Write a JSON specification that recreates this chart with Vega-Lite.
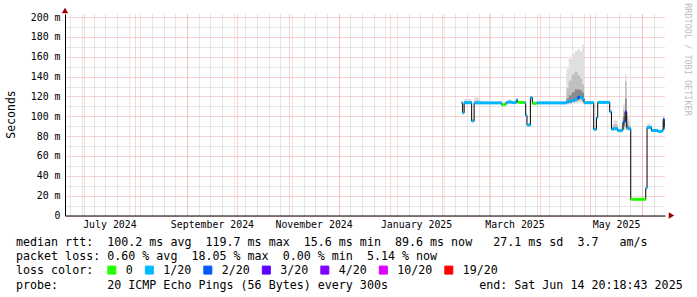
{
  "$schema": "https://vega.github.io/schema/vega-lite/v6.json",
  "width": 600,
  "height": 201.5,
  "autosize": {"type": "none"},
  "padding": {"left": 65, "top": 14, "right": 32, "bottom": 81.5},
  "background": "white",
  "config": {
    "view": {"stroke": null},
    "axis": {
      "labelFont": "DejaVu Sans Mono",
      "labelFontSize": 9.9,
      "labelColor": "#000000",
      "titleFont": "DejaVu Sans Mono",
      "titleFontWeight": "normal",
      "titleColor": "#000000",
      "tickSize": 0,
      "domainColor": "#000000",
      "labelFlush": false,
      "labelOverlap": false,
      "labelBound": false
    }
  },
  "title": {
    "text": [
      "median\u00a0rtt:\u00a0\u00a0100.2\u00a0ms\u00a0avg\u00a0\u00a0119.7\u00a0ms\u00a0max\u00a0\u00a015.6\u00a0ms\u00a0min\u00a0\u00a089.6\u00a0ms\u00a0now\u00a0\u00a0\u00a027.1\u00a0ms\u00a0sd\u00a0\u00a03.7\u00a0\u00a0\u00a0am/s",
      "packet\u00a0loss:\u00a00.60\u00a0%\u00a0avg\u00a0\u00a018.05\u00a0%\u00a0max\u00a0\u00a00.00\u00a0%\u00a0min\u00a0\u00a05.14\u00a0%\u00a0now",
      "loss\u00a0color:",
      "probe:\u00a0\u00a0\u00a0\u00a0\u00a0\u00a0\u00a020\u00a0ICMP\u00a0Echo\u00a0Pings\u00a0(56\u00a0Bytes)\u00a0every\u00a0300s\u00a0\u00a0\u00a0\u00a0\u00a0\u00a0\u00a0\u00a0\u00a0\u00a0\u00a0\u00a0\u00a0end:\u00a0Sat\u00a0Jun\u00a014\u00a020:18:43\u00a02025"
    ],
    "orient": "bottom",
    "anchor": "start",
    "frame": "group",
    "font": "DejaVu Sans Mono",
    "fontSize": 11.67,
    "fontWeight": "normal",
    "color": "#000000",
    "lineHeight": 14.2,
    "baseline": "top",
    "dx": -49,
    "dy": -48,
    "offset": 8
  },
  "datasets": {
    "ping": [
      {"t": "2025-02-12T20:00", "med": 113.7, "loss": "1/20", "lo": 112.7, "hi": 115.2, "lo2": 113.2, "hi2": 114.5, "lo3": 113.5, "hi3": 114.0},
      {"t": "2025-02-13T10:00", "med": 103.6, "loss": "1/20", "lo": 102.6, "hi": 105.1, "lo2": 103.1, "hi2": 104.4, "lo3": 103.4, "hi3": 103.9},
      {"t": "2025-02-14T08:00", "med": 113.7, "loss": "1/20", "lo": 112.5, "hi": 117.5, "lo2": 113.0, "hi2": 115.5, "lo3": 113.5, "hi3": 114.2},
      {"t": "2025-02-18T20:00", "med": 95.3, "loss": "1/20", "lo": 94.3, "hi": 97.0, "lo2": 94.8, "hi2": 96.0, "lo3": 95.1, "hi3": 95.6},
      {"t": "2025-02-20T08:00", "med": 113.5, "loss": "1/20", "lo": 112.5, "hi": 119.0, "lo2": 113.0, "hi2": 116.0, "lo3": 113.3, "hi3": 114.2},
      {"t": "2025-02-24T00:00", "med": 113.5, "loss": "1/20", "lo": 112.5, "hi": 115.0, "lo2": 113.0, "hi2": 114.3, "lo3": 113.3, "hi3": 113.8},
      {"t": "2025-03-08T20:00", "med": 111.7, "loss": "0", "lo": 110.7, "hi": 113.2, "lo2": 111.2, "hi2": 112.5, "lo3": 111.5, "hi3": 112.0},
      {"t": "2025-03-11T06:00", "med": 113.5, "loss": "1/20", "lo": 112.5, "hi": 115.0, "lo2": 113.0, "hi2": 114.3, "lo3": 113.3, "hi3": 113.8},
      {"t": "2025-03-12T10:30", "med": 114.3, "loss": "1/20", "lo": 113.0, "hi": 116.8, "lo2": 113.8, "hi2": 115.5, "lo3": 114.0, "hi3": 114.8},
      {"t": "2025-03-14T20:00", "med": 113.8, "loss": "1/20", "lo": 112.8, "hi": 115.3, "lo2": 113.3, "hi2": 114.6, "lo3": 113.6, "hi3": 114.1},
      {"t": "2025-03-17T16:00", "med": 116.5, "loss": "1/20", "lo": 115.0, "hi": 118.0, "lo2": 115.8, "hi2": 117.3, "lo3": 116.2, "hi3": 116.8},
      {"t": "2025-03-18T10:50", "med": 114.0, "loss": "0", "lo": 113.0, "hi": 115.5, "lo2": 113.5, "hi2": 114.8, "lo3": 113.8, "hi3": 114.3},
      {"t": "2025-03-22T15:40", "med": 113.7, "loss": "1/20", "lo": 112.7, "hi": 115.2, "lo2": 113.2, "hi2": 114.5, "lo3": 113.5, "hi3": 114.0},
      {"t": "2025-03-23T06:00", "med": 101.0, "loss": "1/20", "lo": 100.0, "hi": 102.5, "lo2": 100.5, "hi2": 101.8, "lo3": 100.8, "hi3": 101.3},
      {"t": "2025-03-24T00:45", "med": 91.2, "loss": "1/20", "lo": 90.2, "hi": 92.7, "lo2": 90.7, "hi2": 92.0, "lo3": 91.0, "hi3": 91.5},
      {"t": "2025-03-26T01:40", "med": 118.8, "loss": "1/20", "lo": 117.5, "hi": 120.5, "lo2": 118.2, "hi2": 119.7, "lo3": 118.5, "hi3": 119.1},
      {"t": "2025-03-27T06:30", "med": 113.0, "loss": "0", "lo": 112.0, "hi": 114.5, "lo2": 112.5, "hi2": 113.8, "lo3": 112.8, "hi3": 113.3},
      {"t": "2025-03-29T20:25", "med": 113.5, "loss": "1/20", "lo": 112.5, "hi": 115.0, "lo2": 113.0, "hi2": 114.3, "lo3": 113.3, "hi3": 113.8},
      {"t": "2025-04-16T16:00", "med": 114.5, "loss": "1/20", "lo": 112.0, "hi": 148.0, "lo2": 113.0, "hi2": 128.0, "lo3": 113.5, "hi3": 118.0},
      {"t": "2025-04-18T01:30", "med": 115.0, "loss": "1/20", "lo": 112.0, "hi": 158.0, "lo2": 113.0, "hi2": 136.0, "lo3": 114.0, "hi3": 121.0},
      {"t": "2025-04-19T20:50", "med": 116.0, "loss": "1/20", "lo": 113.0, "hi": 163.0, "lo2": 114.0, "hi2": 142.0, "lo3": 115.0, "hi3": 124.0},
      {"t": "2025-04-21T16:00", "med": 117.0, "loss": "1/20", "lo": 113.0, "hi": 166.0, "lo2": 115.0, "hi2": 145.0, "lo3": 116.0, "hi3": 127.0},
      {"t": "2025-04-23T11:20", "med": 119.0, "loss": "2/20", "lo": 114.0, "hi": 168.0, "lo2": 116.0, "hi2": 141.0, "lo3": 117.0, "hi3": 127.0},
      {"t": "2025-04-24T22:00", "med": 120.0, "loss": "1/20", "lo": 114.0, "hi": 165.0, "lo2": 116.0, "hi2": 138.0, "lo3": 118.0, "hi3": 126.0},
      {"t": "2025-04-26T01:00", "med": 118.0, "loss": "1/20", "lo": 113.0, "hi": 172.0, "lo2": 115.0, "hi2": 132.0, "lo3": 116.0, "hi3": 124.0},
      {"t": "2025-04-27T06:00", "med": 113.7, "loss": "1/20", "lo": 112.7, "hi": 115.2, "lo2": 113.2, "hi2": 114.5, "lo3": 113.5, "hi3": 114.0},
      {"t": "2025-05-03T01:40", "med": 86.9, "loss": "1/20", "lo": 85.9, "hi": 88.4, "lo2": 86.4, "hi2": 87.7, "lo3": 86.7, "hi3": 87.2},
      {"t": "2025-05-04T16:35", "med": 98.6, "loss": "1/20", "lo": 97.6, "hi": 100.1, "lo2": 98.1, "hi2": 99.4, "lo3": 98.4, "hi3": 98.9},
      {"t": "2025-05-05T11:20", "med": 114.0, "loss": "1/20", "lo": 113.0, "hi": 115.5, "lo2": 113.5, "hi2": 114.8, "lo3": 113.8, "hi3": 114.3},
      {"t": "2025-05-12T16:20", "med": 104.5, "loss": "1/20", "lo": 103.5, "hi": 106.0, "lo2": 104.0, "hi2": 105.3, "lo3": 104.3, "hi3": 104.8},
      {"t": "2025-05-13T16:50", "med": 87.0, "loss": "1/20", "lo": 86.0, "hi": 92.0, "lo2": 86.5, "hi2": 89.5, "lo3": 86.8, "hi3": 87.8},
      {"t": "2025-05-15T02:00", "med": 87.5, "loss": "1/20", "lo": 86.5, "hi": 96.0, "lo2": 87.0, "hi2": 92.0, "lo3": 87.3, "hi3": 89.0},
      {"t": "2025-05-17T11:30", "med": 85.5, "loss": "1/20", "lo": 84.5, "hi": 87.5, "lo2": 85.0, "hi2": 86.5, "lo3": 85.3, "hi3": 85.9},
      {"t": "2025-05-19T21:10", "med": 86.0, "loss": "1/20", "lo": 85.0, "hi": 99.0, "lo2": 85.5, "hi2": 93.0, "lo3": 85.8, "hi3": 89.0},
      {"t": "2025-05-20T15:50", "med": 94.3, "loss": "2/20", "lo": 86.0, "hi": 112.0, "lo2": 88.0, "hi2": 106.0, "lo3": 90.0, "hi3": 100.0},
      {"t": "2025-05-21T22:00", "med": 104.3, "loss": "3/20", "lo": 86.0, "hi": 142.0, "lo2": 90.0, "hi2": 135.0, "lo3": 95.0, "hi3": 118.0},
      {"t": "2025-05-22T21:10", "med": 88.0, "loss": "1/20", "lo": 86.0, "hi": 100.0, "lo2": 87.0, "hi2": 95.0, "lo3": 87.5, "hi3": 91.0},
      {"t": "2025-05-24T02:00", "med": 87.5, "loss": "1/20", "lo": 86.5, "hi": 95.0, "lo2": 87.0, "hi2": 90.5, "lo3": 87.3, "hi3": 88.5},
      {"t": "2025-05-25T07:00", "med": 16.3, "loss": "0", "lo": 15.3, "hi": 17.3, "lo2": 15.8, "hi2": 16.8, "lo3": 16.1, "hi3": 16.5},
      {"t": "2025-06-03T07:00", "med": 27.4, "loss": "1/20", "lo": 26.4, "hi": 28.4, "lo2": 26.9, "hi2": 27.9, "lo3": 27.2, "hi3": 27.6},
      {"t": "2025-06-04T01:40", "med": 88.8, "loss": "1/20", "lo": 87.8, "hi": 92.5, "lo2": 88.3, "hi2": 90.5, "lo3": 88.6, "hi3": 89.3},
      {"t": "2025-06-06T17:00", "med": 85.7, "loss": "1/20", "lo": 84.7, "hi": 87.2, "lo2": 85.2, "hi2": 86.5, "lo3": 85.5, "hi3": 86.0},
      {"t": "2025-06-10T12:00", "med": 84.8, "loss": "1/20", "lo": 83.8, "hi": 86.3, "lo2": 84.3, "hi2": 85.6, "lo3": 84.6, "hi3": 85.1},
      {"t": "2025-06-13T06:00", "med": 86.0, "loss": "1/20", "lo": 85.0, "hi": 90.0, "lo2": 85.5, "hi2": 88.0, "lo3": 85.8, "hi3": 86.8},
      {"t": "2025-06-13T18:00", "med": 97.0, "loss": "2/20", "lo": 86.0, "hi": 99.0, "lo2": 88.0, "hi2": 98.0, "lo3": 90.0, "hi3": 97.5},
      {"t": "2025-06-14T09:40", "med": 88.0, "loss": "1/20", "lo": 87.0, "hi": 91.0, "lo2": 87.5, "hi2": 89.5, "lo3": 87.8, "hi3": 88.5},
      {"t": "2025-06-14T20:18", "med": 88.0, "loss": "1/20", "lo": 87.0, "hi": 91.0, "lo2": 87.5, "hi2": 89.5, "lo3": 87.8, "hi3": 88.5}
    ]
  },
  "data": {"name": "ping"},
  "layer": [
    {
      "mark": {"type": "area", "interpolate": "step-after", "color": "#e0e0e0"},
      "encoding": {
        "x": {
          "field": "t", "type": "temporal",
          "scale": {"domain": [{"year": 2024, "month": 6, "date": 19, "hours": 20, "minutes": 18, "seconds": 43}, {"year": 2025, "month": 6, "date": 14, "hours": 20, "minutes": 18, "seconds": 43}]},
          "axis": {"orient": "bottom", "tickCount": {"interval": "week", "step": 1}, "grid": true, "gridColor": "#cccccc", "gridDash": [1, 1], "labels": false, "ticks": false, "domain": false, "title": null}
        },
        "y": {
          "field": "lo", "type": "quantitative",
          "scale": {"domain": [0, 203.1], "nice": false, "zero": false},
          "axis": {"orient": "left", "values": [10, 30, 50, 70, 90, 110, 130, 150, 170, 190], "grid": true, "gridColor": "#cccccc", "gridDash": [1, 1], "labels": false, "ticks": false, "domain": false, "title": null}
        },
        "y2": {"field": "hi"}
      }
    },
    {
      "mark": {"type": "area", "interpolate": "step-after", "color": "#c0c0c0"},
      "encoding": {
        "x": {
          "field": "t", "type": "temporal",
          "scale": {"domain": [{"year": 2024, "month": 6, "date": 19, "hours": 20, "minutes": 18, "seconds": 43}, {"year": 2025, "month": 6, "date": 14, "hours": 20, "minutes": 18, "seconds": 43}]},
          "axis": {"orient": "bottom", "tickCount": {"interval": "month", "step": 1}, "grid": true, "gridColor": "#f0a6a6", "gridDash": [1, 1], "labels": false, "ticks": false, "domain": false, "title": null}
        },
        "y": {
          "field": "lo2", "type": "quantitative",
          "scale": {"domain": [0, 203.1], "nice": false, "zero": false},
          "axis": {
            "orient": "left",
            "values": [0, 20, 40, 60, 80, 100, 120, 140, 160, 180, 200],
            "grid": true, "gridColor": "#f0a6a6", "gridDash": [1, 1],
            "ticks": false, "domain": true, "domainColor": "#000000",
            "labelExpr": "datum.value == 0 ? '0' : datum.value + '\u00a0m'",
            "labelPadding": 5, "labelFontSize": 9.9,
            "title": "Seconds", "titleFontSize": 11.5, "titleAngle": 270,
            "titleX": -54, "titleY": 100, "titleAlign": "center", "titleBaseline": "middle"
          }
        },
        "y2": {"field": "hi2"}
      }
    },
    {
      "mark": {"type": "area", "interpolate": "step-after", "color": "#8a8a8a"},
      "encoding": {
        "x": {
          "field": "t", "type": "temporal",
          "scale": {"domain": [{"year": 2024, "month": 6, "date": 19, "hours": 20, "minutes": 18, "seconds": 43}, {"year": 2025, "month": 6, "date": 14, "hours": 20, "minutes": 18, "seconds": 43}]},
          "axis": {
            "orient": "bottom",
            "values": [
              {"year": 2024, "month": 7, "date": 16, "hours": 12},
              {"year": 2024, "month": 9, "date": 16},
              {"year": 2024, "month": 11, "date": 16},
              {"year": 2025, "month": 1, "date": 16, "hours": 12},
              {"year": 2025, "month": 3, "date": 16, "hours": 12},
              {"year": 2025, "month": 5, "date": 16, "hours": 12}
            ],
            "format": "%B %Y", "grid": false, "ticks": false, "domain": true, "domainColor": "#000000",
            "labelPadding": 4, "labelFontSize": 9.9, "title": null
          }
        },
        "y": {
          "field": "lo3", "type": "quantitative",
          "scale": {"domain": [0, 203.1], "nice": false, "zero": false},
          "axis": null
        },
        "y2": {"field": "hi3"}
      }
    },
    {
      "mark": {"type": "line", "interpolate": "step-after", "color": "#000000", "strokeWidth": 1},
      "encoding": {
        "x": {
          "field": "t", "type": "temporal",
          "scale": {"domain": [{"year": 2024, "month": 6, "date": 19, "hours": 20, "minutes": 18, "seconds": 43}, {"year": 2025, "month": 6, "date": 14, "hours": 20, "minutes": 18, "seconds": 43}]},
          "axis": null
        },
        "y": {
          "field": "med", "type": "quantitative",
          "scale": {"domain": [0, 203.1], "nice": false, "zero": false},
          "axis": null
        }
      }
    },
    {
      "transform": [
        {"window": [{"op": "lead", "field": "t", "as": "t2"}], "sort": [{"field": "t", "order": "ascending"}]},
        {"filter": "datum.t2 != null"}
      ],
      "mark": {"type": "rule", "strokeWidth": 3, "strokeCap": "butt"},
      "encoding": {
        "x": {
          "field": "t", "type": "temporal",
          "scale": {"domain": [{"year": 2024, "month": 6, "date": 19, "hours": 20, "minutes": 18, "seconds": 43}, {"year": 2025, "month": 6, "date": 14, "hours": 20, "minutes": 18, "seconds": 43}]},
          "axis": null
        },
        "x2": {"field": "t2"},
        "y": {
          "field": "med", "type": "quantitative",
          "scale": {"domain": [0, 203.1], "nice": false, "zero": false},
          "axis": null
        },
        "color": {
          "field": "loss", "type": "nominal",
          "scale": {
            "domain": ["0", "1/20", "2/20", "3/20", "4/20", "10/20", "19/20"],
            "range": ["#26ff00", "#00b8ff", "#0059ff", "#5e00ff", "#7e00ff", "#dd00ff", "#ff0000"]
          },
          "legend": {
            "orient": "none", "legendX": 41, "legendY": 250, "direction": "horizontal",
            "title": null, "padding": 0,
            "symbolType": "square", "symbolSize": 64, "symbolStrokeColor": "#000000", "symbolStrokeWidth": 1,
            "labelFont": "DejaVu Sans Mono", "labelFontSize": 11.67, "labelColor": "#000000",
            "labelOffset": 8, "columnPadding": 9.5, "labelBaseline": "middle",
            "encode": {
              "symbols": {
                "update": {
                  "fill": {"scale": "color", "field": "value"},
                  "stroke": {"value": "#000000"},
                  "strokeWidth": {"value": 1},
                  "opacity": {"value": 1}
                }
              }
            }
          }
        }
      }
    },
    {
      "data": {"values": [{"t": "2025-06-14T20:18:43", "v": 0}]},
      "mark": {"type": "point", "shape": "triangle-right", "filled": true, "color": "#990000", "size": 40, "xOffset": 6.5, "opacity": 1},
      "encoding": {
        "x": {
          "field": "t", "type": "temporal",
          "scale": {"domain": [{"year": 2024, "month": 6, "date": 19, "hours": 20, "minutes": 18, "seconds": 43}, {"year": 2025, "month": 6, "date": 14, "hours": 20, "minutes": 18, "seconds": 43}]},
          "axis": null
        },
        "y": {
          "field": "v", "type": "quantitative",
          "scale": {"domain": [0, 203.1], "nice": false, "zero": false},
          "axis": null
        }
      }
    },
    {
      "data": {"values": [{"t": "2024-06-19T20:18:43", "v": 203.1}]},
      "mark": {"type": "point", "shape": "triangle-up", "filled": true, "color": "#990000", "size": 40, "yOffset": -3.5, "opacity": 1},
      "encoding": {
        "x": {
          "field": "t", "type": "temporal",
          "scale": {"domain": [{"year": 2024, "month": 6, "date": 19, "hours": 20, "minutes": 18, "seconds": 43}, {"year": 2025, "month": 6, "date": 14, "hours": 20, "minutes": 18, "seconds": 43}]},
          "axis": null
        },
        "y": {
          "field": "v", "type": "quantitative",
          "scale": {"domain": [0, 203.1], "nice": false, "zero": false},
          "axis": {
            "orient": "right", "title": "RRDTOOL / TOBI OETIKER",
            "labels": false, "ticks": false, "domain": false, "grid": false,
            "titleAngle": 90, "titleX": 22, "titleY": 45, "titleAlign": "center", "titleBaseline": "middle",
            "titleFont": "DejaVu Sans Mono", "titleFontSize": 8.5, "titleFontWeight": "normal", "titleColor": "#bdbdbd"
          }
        }
      }
    }
  ],
  "resolve": {"axis": {"x": "independent", "y": "independent"}}
}
